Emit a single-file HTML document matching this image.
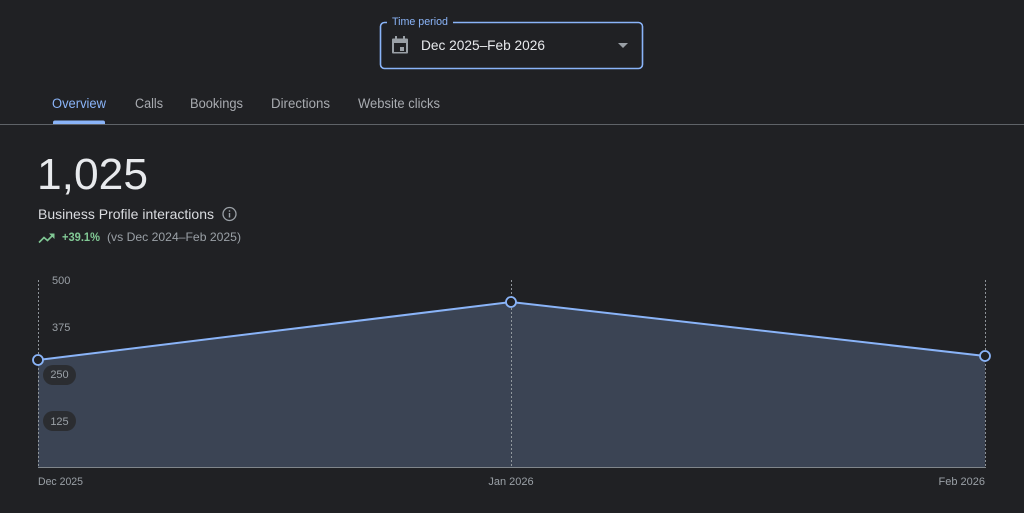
<!DOCTYPE html>
<html><head><meta charset="utf-8">
<style>
html,body{margin:0;padding:0;background:#202124;}
body{width:1024px;height:513px;overflow:hidden;}
svg{display:block;font-family:"Liberation Sans",Arial,sans-serif;}
</style></head>
<body>
<svg width="1024" height="513" viewBox="0 0 1024 513" xmlns="http://www.w3.org/2000/svg">
<rect width="1024" height="513" fill="#202124"/>

<!-- Dropdown -->
<rect x="380.5" y="22.5" width="262" height="46" rx="4" fill="none" stroke="#8ab4f8" stroke-width="1.6"/>
<rect x="387" y="18" width="66" height="8" fill="#202124"/>
<text x="392" y="25" font-size="11" fill="#8ab4f8" textLength="56" lengthAdjust="spacingAndGlyphs">Time period</text>
<!-- calendar icon -->
<g fill="#9aa0a6">
<rect x="395" y="36" width="2" height="3"/>
<rect x="403" y="36" width="2" height="3"/>
<path d="M393 38.5 h14 a1 1 0 0 1 1 1 v13 a1 1 0 0 1 -1 1 h-14 a1 1 0 0 1 -1 -1 v-13 a1 1 0 0 1 1 -1z M394 43 v9 h12 v-9z" fill-rule="evenodd"/>
<rect x="400" y="47" width="4" height="4"/>
</g>
<text x="421" y="50" font-size="14" fill="#e8eaed" textLength="124" lengthAdjust="spacingAndGlyphs">Dec 2025–Feb 2026</text>
<path d="M618 43 h10 l-5 5z" fill="#9aa0a6"/>

<!-- Tabs -->
<text x="52" y="108" font-size="13.5" fill="#8ab4f8" textLength="54" lengthAdjust="spacingAndGlyphs">Overview</text>
<text x="135" y="108" font-size="13.5" fill="#a8abb0" textLength="28" lengthAdjust="spacingAndGlyphs">Calls</text>
<text x="190" y="108" font-size="13.5" fill="#a8abb0" textLength="53" lengthAdjust="spacingAndGlyphs">Bookings</text>
<text x="271" y="108" font-size="13.5" fill="#a8abb0" textLength="59" lengthAdjust="spacingAndGlyphs">Directions</text>
<text x="358" y="108" font-size="13.5" fill="#a8abb0" textLength="82" lengthAdjust="spacingAndGlyphs">Website clicks</text>
<rect x="0" y="124" width="1024" height="1" fill="#5f6368"/>
<path d="M53 124 v-1.5 a2 2 0 0 1 2 -2 h48 a2 2 0 0 1 2 2 v1.5z" fill="#8ab4f8"/>

<!-- Big number -->
<text x="37" y="189" font-size="44" fill="#e8eaed" textLength="111" lengthAdjust="spacingAndGlyphs">1,025</text>
<text x="38" y="219" font-size="14" fill="#dadce0" textLength="176" lengthAdjust="spacingAndGlyphs">Business Profile interactions</text>
<circle cx="229.5" cy="214" r="6.5" fill="none" stroke="#9aa0a6" stroke-width="1.3"/>
<rect x="228.8" y="213" width="1.4" height="4.5" fill="#9aa0a6"/>
<rect x="228.8" y="210.3" width="1.4" height="1.4" fill="#9aa0a6"/>

<!-- trend -->
<polyline points="39,242.5 44,237.5 47.5,240.5 53,235" fill="none" stroke="#81c995" stroke-width="1.6"/>
<path d="M49 233.5 h5.5 v5.5z" fill="#81c995"/>
<text x="62" y="241" font-size="12" font-weight="bold" fill="#81c995" textLength="38" lengthAdjust="spacingAndGlyphs">+39.1%</text>
<text x="107" y="241" font-size="12" fill="#9aa0a6" textLength="134" lengthAdjust="spacingAndGlyphs">(vs Dec 2024–Feb 2025)</text>

<!-- Chart -->
<polygon points="38,360 511,302 985,356 985,467 38,467" fill="#3b4454"/>
<g stroke="#9aa0a6" stroke-width="1" stroke-dasharray="2,2" opacity="0.9">
<line x1="38.5" y1="280" x2="38.5" y2="467"/>
<line x1="511.5" y1="280" x2="511.5" y2="467"/>
<line x1="985.5" y1="280" x2="985.5" y2="467"/>
</g>
<line x1="38" y1="467.5" x2="986" y2="467.5" stroke="#80868b" stroke-width="1"/>

<!-- y labels -->
<text x="52" y="284" font-size="11" fill="#9aa0a6">500</text>
<text x="52" y="331" font-size="11" fill="#9aa0a6">375</text>
<rect x="43" y="365" width="33" height="20" rx="10" fill="#2b2d31"/>
<text x="59.5" y="378" font-size="11" fill="#9aa0a6" text-anchor="middle">250</text>
<rect x="43" y="411" width="33" height="20" rx="10" fill="#2b2d31"/>
<text x="59.5" y="425" font-size="11" fill="#9aa0a6" text-anchor="middle">125</text>

<polyline points="38,360 511,302 985,356" fill="none" stroke="#8ab4f8" stroke-width="2"/>
<circle cx="38" cy="360" r="5" fill="#202124" stroke="#8ab4f8" stroke-width="1.8"/>
<circle cx="511" cy="302" r="5" fill="#202124" stroke="#8ab4f8" stroke-width="1.8"/>
<circle cx="985" cy="356" r="5" fill="#202124" stroke="#8ab4f8" stroke-width="1.8"/>

<!-- x labels -->
<text x="38" y="485" font-size="11" fill="#9aa0a6" textLength="45" lengthAdjust="spacingAndGlyphs">Dec 2025</text>
<text x="511" y="485" font-size="11" fill="#9aa0a6" text-anchor="middle">Jan 2026</text>
<text x="985" y="485" font-size="11" fill="#9aa0a6" text-anchor="end">Feb 2026</text>
</svg>
</body></html>
